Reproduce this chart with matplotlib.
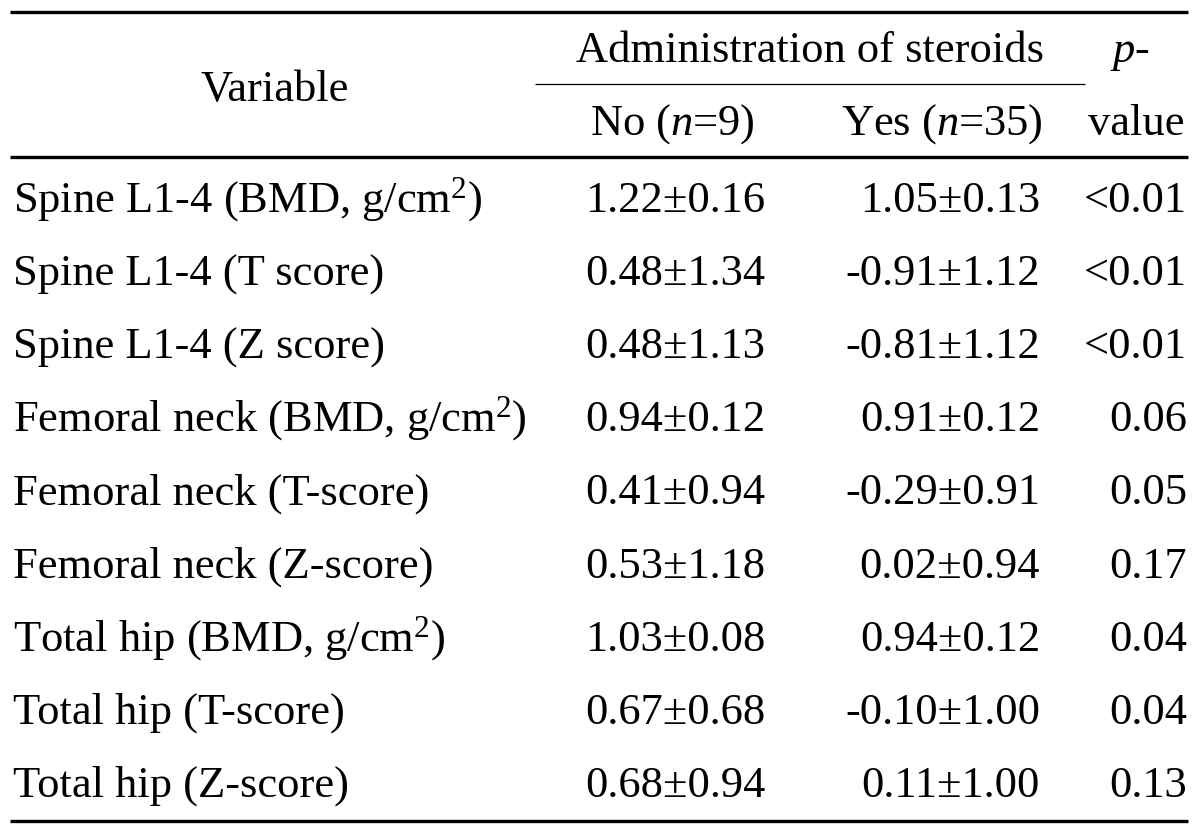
import matplotlib
matplotlib.use("Agg")
import matplotlib.pyplot as plt

# ---------------------------------------------------------------------------
# Table content
# ---------------------------------------------------------------------------
variables = [
    "Spine L1-4 (BMD, g/cm$^{2}$)",
    "Spine L1-4 (T score)",
    "Spine L1-4 (Z score)",
    "Femoral neck (BMD, g/cm$^{2}$)",
    "Femoral neck (T-score)",
    "Femoral neck (Z-score)",
    "Total hip (BMD, g/cm$^{2}$)",
    "Total hip (T-score)",
    "Total hip (Z-score)",
]
no_steroid = [
    "1.22\u00b10.16", "0.48\u00b11.34", "0.48\u00b11.13",
    "0.94\u00b10.12", "0.41\u00b10.94", "0.53\u00b11.18",
    "1.03\u00b10.08", "0.67\u00b10.68", "0.68\u00b10.94",
]
yes_steroid = [
    "1.05\u00b10.13", "-0.91\u00b11.12", "-0.81\u00b11.12",
    "0.91\u00b10.12", "-0.29\u00b10.91", "0.02\u00b10.94",
    "0.94\u00b10.12", "-0.10\u00b11.00", "0.11\u00b11.00",
]
p_values = ["<0.01", "<0.01", "<0.01", "0.06", "0.05", "0.17", "0.04", "0.04", "0.13"]

group_header = "Administration of steroids"
col_headers = ["No ($n$=9)", "Yes ($n$=35)"]

# ---------------------------------------------------------------------------
# Layout (pixel coordinates on a 1200x833 canvas)
# ---------------------------------------------------------------------------
plt.rcParams["font.family"] = ["Liberation Serif", "DejaVu Serif"]
plt.rcParams["mathtext.fontset"] = "custom"
plt.rcParams["mathtext.rm"] = "Liberation Serif"
plt.rcParams["mathtext.it"] = "Liberation Serif:italic"

FS = 32
fig = plt.figure(figsize=(12, 8.33), dpi=100)
ax = fig.add_axes([0, 0, 1, 1])
ax.set_xlim(0, 1200)
ax.set_ylim(833, 0)
ax.axis("off")

# rules
ax.plot([10, 1188], [12, 12], color="black", lw=2.4, solid_capstyle="butt")
ax.plot([535, 1085], [84, 84], color="black", lw=0.9, solid_capstyle="butt")
ax.plot([10, 1188], [157, 157], color="black", lw=2.4, solid_capstyle="butt")
ax.plot([10, 1188], [821, 821], color="black", lw=2.4, solid_capstyle="butt")

# header
ax.text(275, 101, "Variable", fontsize=FS, ha="center", va="baseline")
ax.text(810, 62, group_header, fontsize=FS, ha="center", va="baseline")
ax.text(672, 135, col_headers[0], fontsize=FS, ha="center", va="baseline")
ax.text(942, 135, col_headers[1], fontsize=FS, ha="center", va="baseline")
ax.text(1130, 62, "$p$-", fontsize=FS, ha="center", va="baseline")
ax.text(1136, 135, "value", fontsize=FS, ha="center", va="baseline")

# body rows
y0, dy = 212, 73.1
for i, (var, a, b, p) in enumerate(zip(variables, no_steroid, yes_steroid, p_values)):
    y = y0 + i * dy
    ax.text(13, y, var, fontsize=FS, ha="left", va="baseline")
    ax.text(675, y, a, fontsize=FS, ha="center", va="baseline")
    ax.text(1040, y, b, fontsize=FS, ha="right", va="baseline")
    ax.text(1187, y, p, fontsize=FS, ha="right", va="baseline")

fig.savefig("out.png", dpi=100)
